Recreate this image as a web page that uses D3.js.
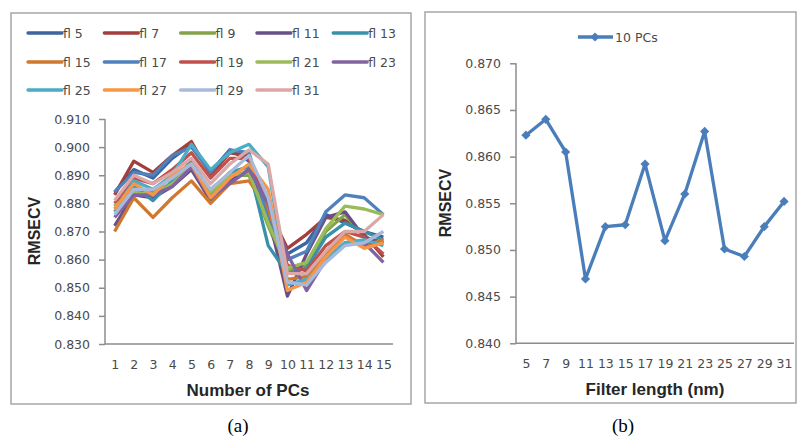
<!DOCTYPE html>
<html>
<head>
<meta charset="utf-8">
<script src="https://cdn.jsdelivr.net/npm/d3@7"></script>
<style>
  body { margin: 0; background: #fff; }
  svg text { font-family: "DejaVu Sans", sans-serif; }
</style>
</head>
<body>
<div id="container"></div>
<script>
const width = 798; // page size
const height = 439;

// panel (a): RMSECV against number of PCs, one line per filter length
const pcs = [1, 2, 3, 4, 5, 6, 7, 8, 9, 10, 11, 12, 13, 14, 15];
const filterNames = ["fl 5", "fl 7", "fl 9", "fl 11", "fl 13", "fl 15", "fl 17",
  "fl 19", "fl 21", "fl 23", "fl 25", "fl 27", "fl 29", "fl 31"];
const fl5  = [0.884, 0.892, 0.889, 0.896, 0.901, 0.891, 0.899, 0.895, 0.880, 0.862, 0.866, 0.876, 0.873, 0.870, 0.868];
const fl7  = [0.883, 0.895, 0.891, 0.897, 0.902, 0.890, 0.898, 0.897, 0.878, 0.864, 0.869, 0.875, 0.874, 0.869, 0.861];
const fl9  = [0.878, 0.885, 0.884, 0.887, 0.893, 0.883, 0.890, 0.890, 0.872, 0.856, 0.858, 0.870, 0.876, 0.868, 0.866];
const fl11 = [0.872, 0.883, 0.882, 0.886, 0.892, 0.881, 0.888, 0.892, 0.876, 0.847, 0.862, 0.875, 0.877, 0.868, 0.866];
const fl13 = [0.879, 0.886, 0.881, 0.888, 0.895, 0.884, 0.891, 0.893, 0.865, 0.855, 0.857, 0.868, 0.873, 0.870, 0.867];
const fl15 = [0.870, 0.882, 0.875, 0.882, 0.888, 0.880, 0.887, 0.888, 0.878, 0.853, 0.854, 0.862, 0.869, 0.865, 0.867];
const fl17 = [0.884, 0.891, 0.890, 0.897, 0.900, 0.891, 0.899, 0.898, 0.874, 0.860, 0.863, 0.877, 0.883, 0.882, 0.876];
const fl19 = [0.880, 0.889, 0.887, 0.892, 0.898, 0.889, 0.896, 0.896, 0.880, 0.858, 0.856, 0.865, 0.870, 0.868, 0.862];
const fl21 = [0.879, 0.884, 0.883, 0.887, 0.893, 0.884, 0.890, 0.891, 0.873, 0.857, 0.859, 0.871, 0.879, 0.878, 0.876];
const fl23 = [0.875, 0.883, 0.883, 0.886, 0.893, 0.882, 0.887, 0.892, 0.880, 0.862, 0.849, 0.860, 0.866, 0.866, 0.859];
const fl25 = [0.877, 0.888, 0.885, 0.890, 0.901, 0.892, 0.898, 0.901, 0.893, 0.851, 0.853, 0.860, 0.866, 0.867, 0.865];
const fl27 = [0.878, 0.887, 0.883, 0.890, 0.894, 0.882, 0.889, 0.894, 0.885, 0.849, 0.852, 0.861, 0.868, 0.864, 0.866];
const fl29 = [0.876, 0.885, 0.885, 0.889, 0.894, 0.885, 0.891, 0.897, 0.882, 0.852, 0.851, 0.859, 0.865, 0.866, 0.870];
const fl31 = [0.881, 0.890, 0.887, 0.891, 0.896, 0.887, 0.894, 0.899, 0.894, 0.855, 0.855, 0.863, 0.870, 0.870, 0.876];
const seriesA = [fl5, fl7, fl9, fl11, fl13, fl15, fl17, fl19, fl21, fl23, fl25, fl27, fl29, fl31];
const ticksA = [0.830, 0.840, 0.850, 0.860, 0.870, 0.880, 0.890, 0.900, 0.910];

// panel (b): RMSECV with 10 PCs against filter length
const filterLengths = [5, 7, 9, 11, 13, 15, 17, 19, 21, 23, 25, 27, 29, 31];
const pcs10 = [0.8623, 0.8640, 0.8605, 0.8469, 0.8525, 0.8527, 0.8592, 0.8510, 0.8560, 0.8627, 0.8501, 0.8493, 0.8525, 0.8552];
const ticksB = [0.840, 0.845, 0.850, 0.855, 0.860, 0.865, 0.870];

const colors = ["#3b66a0", "#a23e3c", "#84a34b", "#684f88", "#3990aa", "#d0782f",
  "#4f81bd", "#c0504d", "#9bbb59", "#8064a2", "#4bacc6", "#f79646", "#a8badb", "#dba8a7"];

const axisColor = "#8c8c8c";
const frameColor = "#a6a6a6";
const textColor = "#4a4a4a";

const svg = d3.select("div#container").append("svg")
  .attr("width", width)
  .attr("height", height);

// panel frames
svg.append("rect").attr("x", 11).attr("y", 13).attr("width", 400).attr("height", 391)
  .attr("fill", "none").attr("stroke", frameColor).attr("stroke-width", 1.5);
svg.append("rect").attr("x", 425).attr("y", 12).attr("width", 371).attr("height", 391)
  .attr("fill", "none").attr("stroke", frameColor).attr("stroke-width", 1.5);

function drawAxes(x, y, ticks, left, right, bottom, top) {
  const gy = svg.append("g")
    .attr("transform", `translate(${left},0)`)
    .call(d3.axisLeft(y).tickValues(ticks).tickFormat(d3.format(".3f")).tickSizeInner(6).tickSizeOuter(0).tickPadding(9));
  gy.selectAll("path, line").attr("stroke", axisColor).attr("stroke-width", 1.5);
  gy.selectAll("text").attr("fill", textColor).style("font-size", "12.5px");
  gy.select(".domain").attr("d", `M0,${bottom}V${top}`);

  const gx = svg.append("g")
    .attr("transform", `translate(0,${bottom})`)
    .call(d3.axisBottom(x).tickSize(0).tickPadding(16));
  gx.select(".domain").attr("d", `M${left},0H${right}`)
    .attr("stroke", axisColor).attr("stroke-width", 1.5);
  gx.selectAll("text").attr("fill", textColor).style("font-size", "12.5px");
}

function axisTitles(xTitle, xc, xy, yc, yx) {
  svg.append("text").attr("x", xc).attr("y", xy).attr("text-anchor", "middle")
    .attr("fill", "#262626").style("font-family", "Liberation Sans, Arial, sans-serif")
    .style("font-size", "17px").style("font-weight", "bold").text(xTitle);
  svg.append("text").attr("transform", `translate(${yx},${yc}) rotate(-90)`)
    .attr("text-anchor", "middle")
    .attr("fill", "#262626").style("font-family", "Liberation Sans, Arial, sans-serif")
    .style("font-size", "16px").style("font-weight", "bold").text("RMSECV");
}

// ---- panel (a)
const xA = d3.scalePoint().domain(pcs).range([105, 393]).padding(0.5);
const yA = d3.scaleLinear().domain([0.83, 0.91]).range([344, 119]);
drawAxes(xA, yA, ticksA, 105, 393, 344, 119);

const lineA = d3.line().x((d, i) => xA(pcs[i])).y(d => yA(d));
svg.append("g")
  .selectAll("path")
  .data(seriesA)
  .join("path")
  .attr("d", lineA)
  .attr("fill", "none")
  .attr("stroke", (d, i) => colors[i])
  .attr("stroke-width", 3.3)
  .attr("stroke-linejoin", "round");

const legendA = svg.append("g")
  .selectAll("g")
  .data(filterNames)
  .join("g")
  .attr("transform", (d, i) => `translate(${28 + (i % 5) * 76.3},${[33, 62, 90][Math.floor(i / 5)]})`);
legendA.append("line")
  .attr("x1", 0).attr("x2", 34)
  .attr("stroke", (d, i) => colors[i]).attr("stroke-width", 3.3).attr("stroke-linecap", "round");
legendA.append("text")
  .attr("x", 35).attr("y", 5)
  .attr("fill", textColor).style("font-size", "12.5px")
  .text(d => d);

axisTitles("Number of PCs", 248, 396, 231, 40);

// ---- panel (b)
const xB = d3.scalePoint().domain(filterLengths).range([516, 794]).padding(0.5);
const yB = d3.scaleLinear().domain([0.84, 0.87]).range([343.3, 63.3]);
drawAxes(xB, yB, ticksB, 516, 794, 343.3, 63.3);

const blue = "#4a7ebb";
const diamond = d3.symbol().type(d3.symbolSquare).size(42);
svg.append("path")
  .datum(pcs10)
  .attr("d", d3.line().x((d, i) => xB(filterLengths[i])).y(d => yB(d)))
  .attr("fill", "none").attr("stroke", blue).attr("stroke-width", 3.3)
  .attr("stroke-linejoin", "round");
svg.append("g")
  .selectAll("path")
  .data(pcs10)
  .join("path")
  .attr("transform", (d, i) => `translate(${xB(filterLengths[i])},${yB(d)}) rotate(45)`)
  .attr("d", diamond)
  .attr("fill", blue);

svg.append("line").attr("x1", 578).attr("x2", 613).attr("y1", 37).attr("y2", 37)
  .attr("stroke", blue).attr("stroke-width", 3.3);
svg.append("path").attr("transform", "translate(595,37) rotate(45)").attr("d", diamond).attr("fill", blue);
svg.append("text").attr("x", 615).attr("y", 42)
  .attr("fill", textColor).style("font-size", "12.5px").text("10 PCs");

axisTitles("Filter  length (nm)", 655, 395, 203, 451);

// captions
svg.selectAll("text.caption")
  .data([["(a)", 238], ["(b)", 623]])
  .join("text")
  .attr("class", "caption")
  .attr("x", d => d[1]).attr("y", 432)
  .attr("text-anchor", "middle")
  .style("font-family", "Liberation Serif, Times New Roman, serif")
  .style("font-size", "19px")
  .attr("fill", "#000")
  .text(d => d[0]);
</script>
</body>
</html>
